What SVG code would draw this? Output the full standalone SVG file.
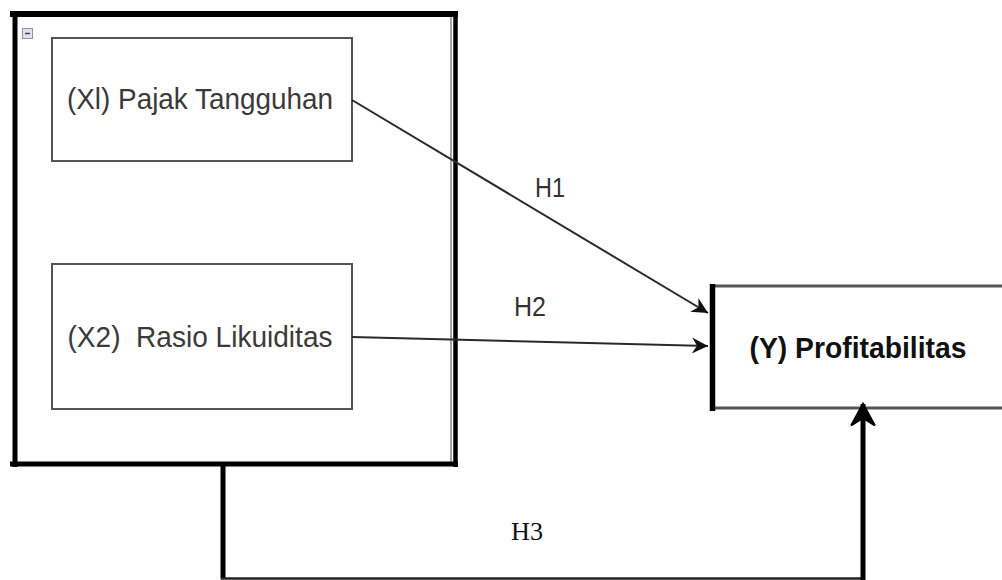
<svg xmlns="http://www.w3.org/2000/svg" width="1002" height="580" viewBox="0 0 1002 580">
<style>
.bg{fill:#ffffff}
.inner{fill:#ffffff;stroke:#555555;stroke-width:2}
.lbl{font-family:"Liberation Sans",Arial,sans-serif;fill:#3a3a3a;white-space:pre}
.ylbl{font-family:"Liberation Sans",Arial,sans-serif;font-weight:bold;fill:#111111}
.h{font-family:"Liberation Sans",Arial,sans-serif;fill:#333333}
.h3{font-family:"Liberation Serif","Times New Roman",serif;fill:#111111}
.thin{fill:none;stroke:#2a2a2a;stroke-width:2}
.thick{fill:none;stroke:#000000;stroke-width:5}
</style>
<defs>
<marker id="arr" markerUnits="userSpaceOnUse" markerWidth="20" markerHeight="20" refX="0" refY="0" viewBox="-17 -10 20 20" orient="auto">
<path d="M0,0 L-16,-8 L-11,0 L-16,8 Z" fill="#111111"/>
</marker>
<marker id="arrBig" markerUnits="userSpaceOnUse" markerWidth="30" markerHeight="30" refX="0" refY="0" viewBox="-24 -14 28 28" orient="auto">
<path d="M0,0 L-20,-11 L-13,0 L-20,11 Z" fill="#000000" stroke="#000000" stroke-width="2" stroke-linejoin="miter"/>
</marker>
</defs>
<rect class="bg" x="0" y="0" width="1002" height="580"/>

<g id="group-x">
<line x1="451" y1="17" x2="451" y2="462" stroke="#888888" stroke-width="1.5"/>
<line x1="10" y1="14" x2="458" y2="14" stroke="#000" stroke-width="6"/>
<line x1="15" y1="12" x2="15" y2="467" stroke="#000" stroke-width="5"/>
<line x1="455.5" y1="12" x2="455.5" y2="467" stroke="#000" stroke-width="4.5"/>
<line x1="10" y1="464" x2="458" y2="464" stroke="#000" stroke-width="5"/>
<rect x="22.5" y="28.5" width="10" height="10" fill="#dde2ee" stroke="#8a93a8" stroke-width="1"/>
<line x1="25" y1="33.5" x2="30" y2="33.5" stroke="#444" stroke-width="1.5"/>
</g>

<g id="node-x1">
<rect class="inner" x="52" y="38" width="300" height="123"/>
<text class="lbl" x="200" y="109" font-size="29" text-anchor="middle" textLength="266" lengthAdjust="spacingAndGlyphs">(Xl) Pajak Tangguhan</text>
</g>

<g id="node-x2">
<rect class="inner" x="52" y="264" width="300" height="145"/>
<text class="lbl" x="200" y="347" font-size="29" text-anchor="middle" textLength="265" lengthAdjust="spacingAndGlyphs">(X2)  Rasio Likuiditas</text>
</g>

<g id="node-y">
<rect x="712" y="286" width="300" height="122" fill="#ffffff" stroke="#555555" stroke-width="3"/>
<line x1="712.5" y1="284" x2="712.5" y2="411" stroke="#000" stroke-width="5.5"/>
<text class="ylbl" x="858" y="358" font-size="29" text-anchor="middle" textLength="217" lengthAdjust="spacingAndGlyphs">(Y) Profitabilitas</text>
</g>

<g id="connectors">
<line class="thin" x1="352" y1="100" x2="708" y2="313" marker-end="url(#arr)"/>
<line class="thin" x1="352" y1="337" x2="708" y2="346" marker-end="url(#arr)"/>
<line class="thick" x1="223" y1="466" x2="223" y2="579"/>
<line x1="221" y1="578.5" x2="865" y2="578.5" stroke="#222222" stroke-width="2.5"/>
<line class="thick" x1="863" y1="580" x2="863" y2="404" marker-end="url(#arrBig)"/>
<text class="h" x="550" y="197" font-size="28" text-anchor="middle" textLength="30" lengthAdjust="spacingAndGlyphs">H1</text>
<text class="h" x="530" y="316" font-size="28" text-anchor="middle" textLength="32" lengthAdjust="spacingAndGlyphs">H2</text>
<text class="h3" x="527" y="540" font-size="26" text-anchor="middle" textLength="32" lengthAdjust="spacingAndGlyphs">H3</text>
</g>
</svg>
